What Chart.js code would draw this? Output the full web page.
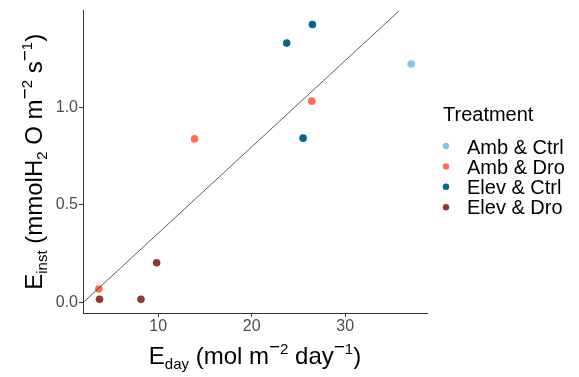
<!DOCTYPE html>
<html>
<head>
<meta charset="utf-8">
<script src="https://cdn.jsdelivr.net/npm/chart.js@4"></script>
<style>
  html, body { margin: 0; padding: 0; background: #fff; }
  #wrap { width: 579px; height: 377px; position: relative; }
</style>
</head>
<body>
<div id="wrap"><canvas id="chart"></canvas></div>
<script>
// ---- data ----
const treatments = ['Amb & Ctrl', 'Amb & Dro', 'Elev & Ctrl', 'Elev & Dro'];
const colors = ['#80c3ef', '#ff6e55', '#03678c', '#8c3b2c'];

const ambCtrlX = [37.07];
const ambCtrlY = [1.224];
const ambDroX = [26.43, 13.89, 3.64];
const ambDroY = [1.033, 0.839, 0.068];
const elevCtrlX = [26.5, 23.75, 25.5];
const elevCtrlY = [1.427, 1.331, 0.843];
const elevDroX = [3.72, 8.15, 9.83];
const elevDroY = [0.015, 0.015, 0.203];

// fitted line, where it enters and leaves the panel
const fitX = [1.95, 35.8];
const fitY = [-0.002, 1.498];

const xTicks = [10, 20, 30];
const yTicks = [0, 0.5, 1.0];
const xRange = [1.95, 38.76];
const yRange = [-0.055, 1.498];

const FONT = "'Liberation Sans', Arial, sans-serif";
const pts = (xs, ys) => xs.map((x, i) => ({ x, y: ys[i] }));
const seriesX = [ambCtrlX, ambDroX, elevCtrlX, elevDroX];
const seriesY = [ambCtrlY, ambDroY, elevCtrlY, elevDroY];

const datasets = treatments.map((t, i) => ({
  label: t,
  data: pts(seriesX[i], seriesY[i]),
  backgroundColor: colors[i],
  pointRadius: 3.8,
  borderWidth: 0,
}));
datasets.unshift({
  label: 'fit',
  data: pts(fitX, fitY),
  showLine: true,
  borderColor: '#333',
  borderWidth: 0.8,
  pointRadius: 0,
});

// rich text with sub/superscripts, centred on x
function drawRich(ctx, parts, x, y) {
  let total = 0;
  parts.forEach((p) => {
    ctx.font = `${p.s}px ${FONT}`;
    p.w = ctx.measureText(p.t).width;
    total += p.w;
  });
  let cx = x - total / 2;
  ctx.textAlign = 'left';
  ctx.textBaseline = 'alphabetic';
  parts.forEach((p) => {
    ctx.font = `${p.s}px ${FONT}`;
    ctx.fillText(p.t, cx, y + (p.dy || 0));
    cx += p.w;
  });
}
const txt = (t) => ({ t, s: 24 });
const sub = (t) => ({ t, s: 15, dy: 5 });
const sup = (d) => [{ t: '\u2212', s: 19, dy: -11 }, { t: d, s: 15, dy: -10 }];

const xTitle = [txt('E'), sub('day'), txt(' (mol m'), ...sup('2'), txt(' day'), ...sup('1'), txt(')')];
const yTitle = [txt('E'), sub('inst'), txt(' (mmolH'), sub('2'), txt(' O m'), ...sup('2'), txt(' s'), ...sup('1'), txt(')')];

const titlesAndLegend = {
  id: 'titlesAndLegend',
  afterDraw(chart) {
    const { ctx, chartArea: a } = chart;
    ctx.save();
    ctx.fillStyle = '#000';
    drawRich(ctx, xTitle, (a.left + a.right) / 2, 363.5);
    ctx.save();
    ctx.translate(41.5, (a.top + a.bottom) / 2);
    ctx.rotate(-Math.PI / 2);
    drawRich(ctx, yTitle, 0, 0);
    ctx.restore();

    // legend
    ctx.font = `20px ${FONT}`;
    ctx.textAlign = 'left';
    ctx.textBaseline = 'alphabetic';
    ctx.fillText('Treatment', a.right + 16, 120.7);
    chart.data.datasets.slice(1).forEach((d, i) => {
      ctx.fillStyle = d.backgroundColor;
      ctx.beginPath();
      ctx.arc(a.right + 19, 146 + i * 20.4, 3.2, 0, Math.PI * 2);
      ctx.fill();
      ctx.fillStyle = '#000';
      ctx.fillText(d.label, a.right + 40, 154 + i * 20);
    });
    ctx.restore();
  },
};

const axisCommon = {
  type: 'linear',
  grid: { display: true, drawOnChartArea: false, drawTicks: true, tickLength: 4, color: '#333' },
  border: { display: true, color: '#333', width: 1 },
  title: { display: false },
};

new Chart(document.getElementById('chart'), {
  type: 'scatter',
  data: { datasets },
  options: {
    responsive: true,
    maintainAspectRatio: false,
    animation: false,
    events: [],
    layout: { padding: { left: 0, top: 7, right: 152, bottom: 0 } },
    plugins: { legend: { display: false }, tooltip: { enabled: false } },
    scales: {
      x: {
        ...axisCommon,
        position: 'bottom',
        min: xRange[0], max: xRange[1],
        afterBuildTicks: (s) => { s.ticks = xTicks.map((v) => ({ value: v })); },
        afterFit: (s) => { s.height = 64; },
        ticks: { font: { size: 16, family: FONT }, color: '#4d4d4d', padding: 0, callback: (v) => String(v) },
      },
      y: {
        ...axisCommon,
        position: 'left',
        min: yRange[0], max: yRange[1],
        afterBuildTicks: (s) => { s.ticks = yTicks.map((v) => ({ value: v })); },
        afterFit: (s) => { s.width = 83; },
        ticks: { font: { size: 16, family: FONT }, color: '#4d4d4d', padding: 1, callback: (v) => Number(v).toFixed(1) },
      },
    },
  },
  plugins: [titlesAndLegend],
});
</script>
</body>
</html>
